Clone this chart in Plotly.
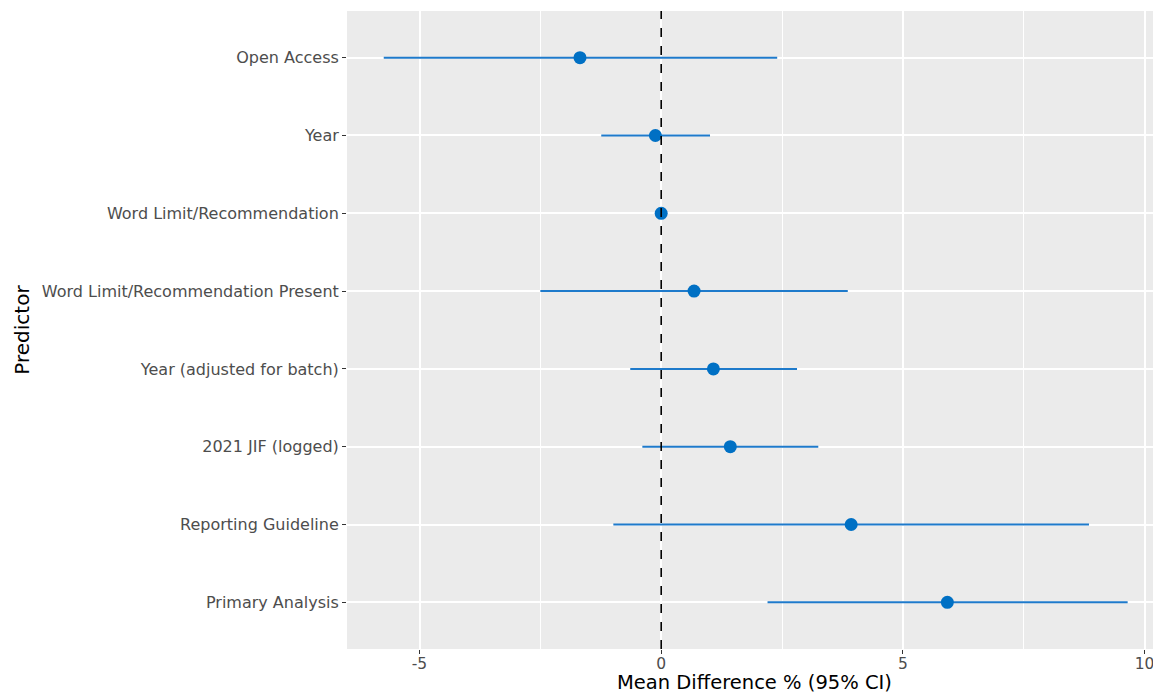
import plotly.graph_objects as go

# Data (bottom to top in plot order)
predictors = [
    "Primary Analysis",
    "Reporting Guideline",
    "2021 JIF (logged)",
    "Year (adjusted for batch)",
    "Word Limit/Recommendation Present",
    "Word Limit/Recommendation",
    "Year",
    "Open Access",
]
mean_diff = [5.92, 3.93, 1.43, 1.08, 0.68, 0.00, -0.12, -1.68]
ci_low = [2.20, -0.99, -0.39, -0.64, -2.50, -0.02, -1.24, -5.74]
ci_high = [9.65, 8.85, 3.25, 2.81, 3.86, 0.02, 1.01, 2.40]

x_ticks = [-5, 0, 5, 10]

err_plus = [h - m for h, m in zip(ci_high, mean_diff)]
err_minus = [m - l for m, l in zip(mean_diff, ci_low)]

fig = go.Figure()
fig.add_trace(go.Scatter(
    x=mean_diff, y=predictors, mode="markers",
    marker=dict(color="#0070C4", size=13),
    error_x=dict(type="data", array=err_plus, arrayminus=err_minus,
                 color="#1E7ACB", thickness=2, width=0),
    showlegend=False,
))

fig.add_shape(type="line", x0=0, x1=0, y0=0, y1=1, yref="paper", xref="x",
              line=dict(color="black", width=1.6, dash="dash"), layer="above")

# x-axis title as an annotation so it sits exactly under the panel
fig.add_annotation(text="Mean Difference % (95% CI)", xref="paper", yref="paper",
                   x=0.5, y=0, yanchor="bottom", yshift=-47, showarrow=False,
                   font=dict(size=19.5, color="black", family="DejaVu Sans"))

# page body has an 8px margin, so the figure is sized to fit the window
fig.update_layout(
    width=1153, height=688,
    margin=dict(l=339, r=0, t=3, b=47),
    paper_bgcolor="white",
    plot_bgcolor="#EBEBEB",
    font=dict(family="DejaVu Sans", color="#4D4D4D", size=16),
    xaxis=dict(
        range=[-6.50, 10.34],
        tickvals=x_ticks,
        ticktext=[str(v) for v in x_ticks],
        showgrid=True, gridcolor="white", gridwidth=1.5,
        minor=dict(dtick=2.5, tick0=0, showgrid=True, gridcolor="white", gridwidth=0.7),
        zeroline=False,
        ticks="outside", ticklen=4, tickcolor="#333333", tickwidth=1,
        ticklabelstandoff=-4,
        tickfont=dict(size=15.5, color="#4D4D4D"),
        automargin=False,
        showline=False,
    ),
    yaxis=dict(
        type="category",
        categoryorder="array", categoryarray=predictors,
        range=[-0.6, 7.6],
        showgrid=True, gridcolor="white", gridwidth=1.5,
        zeroline=False,
        ticks="outside", ticklen=4, tickcolor="#333333", tickwidth=1,
        tickfont=dict(size=16, color="#4D4D4D"),
        title=dict(text="Predictor", font=dict(size=20, color="black"), standoff=6),
        automargin=False,
        showline=False,
    ),
)

fig.write_html("out.html")
